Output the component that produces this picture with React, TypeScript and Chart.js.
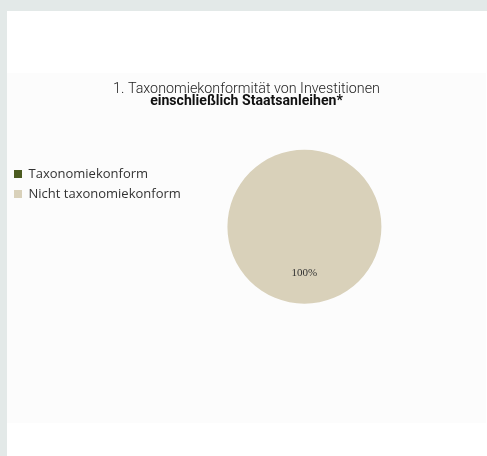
import React, { useEffect, useRef } from "react";
import { Chart, registerables } from "chart.js";

Chart.register(...registerables);

const categories = ["Taxonomiekonform", "Nicht taxonomiekonform"];
const values = [0, 100];
const colors = ["#4b5b20", "#d9d1ba"];
const titleLine1 = "1. Taxonomiekonformität von Investitionen";
const titleLine2 = "einschließlich Staatsanleihen*";

// Reserve some empty room to the right of the pie (layout only)
const reserveRight = {
  id: "reserveRight",
  afterLayout(chart: any) {
    const a = chart.chartArea;
    a.right -= 68;
    a.width = a.right - a.left;
  },
};

const labelPlugin = {
  id: "sliceLabels",
  afterDatasetsDraw(chart: any) {
    const ctx = chart.ctx;
    const meta = chart.getDatasetMeta(0);
    const data = chart.data.datasets[0].data as number[];
    const total = data.reduce((a, b) => a + b, 0);
    meta.data.forEach((arc: any, i: number) => {
      const v = data[i];
      if (!v) return;
      const p = arc.getProps(["x", "y", "startAngle", "endAngle", "outerRadius"], true);
      const mid = (p.startAngle + p.endAngle) / 2;
      const r = p.outerRadius * 0.6;
      const x = p.x + Math.cos(mid) * r;
      const y = p.y + Math.sin(mid) * r;
      ctx.save();
      ctx.font = "11px 'Liberation Serif', serif";
      ctx.fillStyle = "#333333";
      ctx.textAlign = "center";
      ctx.textBaseline = "middle";
      ctx.fillText(Math.round((v / total) * 100) + "%", x, y);
      ctx.restore();
    });
  },
};

export default function App() {
  const ref = useRef<HTMLCanvasElement>(null);
  useEffect(() => {
    document.body.style.margin = "0";
    const chart = new Chart(ref.current!, {
      type: "pie",
      data: {
        labels: categories,
        datasets: [
          {
            data: values,
            backgroundColor: colors,
            borderWidth: 0,
            radius: 77,
          },
        ],
      },
      options: {
        animation: false,
        responsive: false,
        maintainAspectRatio: false,
        layout: { padding: { top: 0, right: 0, bottom: 130, left: 0 } },
        plugins: {
          title: {
            display: true,
            text: titleLine1,
            color: "#222222",
            font: { family: "Roboto, 'Open Sans', sans-serif", size: 14.3, weight: 300, lineHeight: 1 },
            padding: { top: 9, bottom: 0 },
          },
          subtitle: {
            display: true,
            text: titleLine2,
            color: "#111111",
            font: { family: "Roboto, 'Open Sans', sans-serif", size: 14.1, weight: "bold", lineHeight: 1 },
            padding: { top: -2, bottom: 52 },
          },
          legend: {
            position: "left",
            align: "start",
            fullSize: false,
            labels: {
              boxWidth: 8,
              boxHeight: 8,
              padding: 7,
              color: "#333333",
              font: { family: "'Open Sans', sans-serif", size: 13 },
            },
          },
          tooltip: { enabled: false },
        },
      },
      plugins: [reserveRight, labelPlugin],
    });
    return () => chart.destroy();
  }, []);

  return (
    <div
      style={{
        position: "fixed",
        left: 0,
        top: 0,
        width: 487,
        height: 456,
        background: "#e3e9e8",
      }}
    >
      <div
        style={{
          position: "absolute",
          left: 7,
          top: 11,
          width: 480,
          height: 445,
          background: "#ffffff",
        }}
      >
        <div style={{ position: "absolute", left: 0, top: 62, width: 479, height: 350, background: "#fcfcfc" }}>
          <canvas ref={ref} width={479} height={350} style={{ width: 479, height: 350, display: "block" }} />
        </div>
      </div>
    </div>
  );
}
